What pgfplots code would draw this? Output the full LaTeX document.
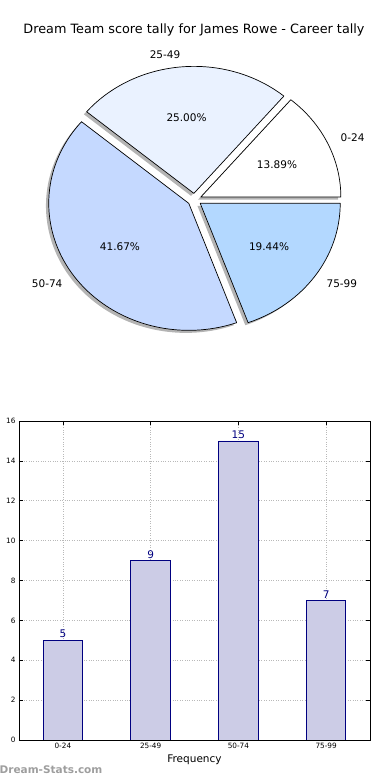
\documentclass[border=0pt]{standalone}
\usepackage{fontspec}
\setmainfont{DejaVu Sans}
\usepackage{pgfplots}
\pgfplotsset{compat=1.18}
\definecolor{cA}{HTML}{FFFFFF}
\definecolor{cB}{HTML}{EAF2FF}
\definecolor{cC}{HTML}{C5D9FF}
\definecolor{cD}{HTML}{B3D8FF}
\definecolor{barfill}{HTML}{CCCCE6}
\definecolor{baredge}{HTML}{000080}
\newcommand\pielist{5/0-24/cA/west, 9/25-49/cB/east, 15/50-74/cC/east, 7/75-99/cD/west}
\begin{document}
\begin{tikzpicture}
\node[font=\fontsize{12.8}{15}\selectfont] at (194pt,750pt) {Dream Team score tally for James Rowe - Career tally};
% ---------- pie ----------
\begin{axis}[at={(54.5pt,453.3pt)}, anchor=south west, scale only axis,
  width=280pt, height=254pt, xmin=-1, xmax=1, ymin=-1, ymax=1,
  hide axis, clip=false]
\pgfplotsextra{
  \gdef\tot{0}
  \foreach \v/\lab/\col/\anc in \pielist {\pgfmathsetmacro\t{\tot+\v}\xdef\tot{\t}}
  % shadows
  \gdef\cum{0}
  \foreach \v/\lab/\col/\anc in \pielist {
    \pgfmathsetmacro\a{\cum}
    \pgfmathsetmacro\b{\cum+\v*360/\tot}
    \pgfmathsetmacro\m{(\a+\b)/2}
    \pgfmathsetmacro\cx{0.05*cos(\m)-0.02}
    \pgfmathsetmacro\cy{0.05*sin(\m)-0.02}
    \pgfmathsetmacro\sx{\cx+cos(\a)}
    \pgfmathsetmacro\sy{\cy+sin(\a)}
    \fill[black!65, opacity=0.45] (axis cs:\cx,\cy) -- (axis cs:\sx,\sy)
      arc[start angle=\a, end angle=\b, x radius=140pt, y radius=127pt] -- cycle;
    \xdef\cum{\b}
  }
  % wedges
  \gdef\cum{0}
  \foreach \v/\lab/\col/\anc in \pielist {
    \pgfmathsetmacro\a{\cum}
    \pgfmathsetmacro\b{\cum+\v*360/\tot}
    \pgfmathsetmacro\m{(\a+\b)/2}
    \pgfmathsetmacro\cx{0.05*cos(\m)}
    \pgfmathsetmacro\cy{0.05*sin(\m)}
    \pgfmathsetmacro\sx{\cx+cos(\a)}
    \pgfmathsetmacro\sy{\cy+sin(\a)}
    \filldraw[fill=\col, draw=black, line width=0.7pt, line join=round] (axis cs:\cx,\cy) -- (axis cs:\sx,\sy)
      arc[start angle=\a, end angle=\b, x radius=140pt, y radius=127pt] -- cycle;
    \pgfmathsetmacro\lx{\cx+1.1*cos(\m)}
    \pgfmathsetmacro\ly{\cy+1.1*sin(\m)}
    \node[anchor=\anc, inner sep=0pt, font=\fontsize{10.5}{12}\selectfont] at (axis cs:\lx,\ly) {\lab};
    \pgfmathsetmacro\px{\cx+0.6*cos(\m)}
    \pgfmathsetmacro\py{\cy+0.6*sin(\m)}
    \pgfmathsetmacro\p{100*\v/\tot}
    \node[inner sep=0pt, font=\fontsize{10.5}{12}\selectfont] at (axis cs:\px,\py) {\pgfmathprintnumber[fixed,fixed zerofill,precision=2,assume math mode=true]{\p}\%};
    \xdef\cum{\b}
  }
}
\end{axis}
% ---------- bars ----------
\begin{axis}[at={(19pt,40pt)}, anchor=south west, scale only axis,
  width=351pt, height=319pt,
  xmin=-0.5, xmax=3.5, ymin=0, ymax=16,
  ybar, bar width=0.45,
  xtick={0,1,2,3}, xticklabels={0-24,25-49,50-74,75-99},
  ytick={0,2,...,16},
  /pgf/number format/assume math mode=true,
  tick label style={font=\fontsize{7.3}{8}\selectfont},
  tick align=inside, major tick length=4pt, tick style={black, line width=0.5pt},
  xtick pos=both, ytick pos=both,
  grid=major, grid style={dash pattern=on 0.8pt off 1.6pt, gray!55, line width=0.7pt},
  axis line style={black, line width=0.8pt},
  xlabel={Frequency},
  xlabel style={at={(axis description cs:0.5,0)}, anchor=center, yshift=-20pt, font=\fontsize{10.5}{12}\selectfont},
  ylabel={Score Interval},
  ylabel style={at={(axis description cs:0,0.5)}, anchor=center, yshift=25pt, font=\fontsize{10.5}{12}\selectfont},
  nodes near coords,
  nodes near coords style={text=baredge, font=\fontsize{10.5}{12}\selectfont, inner sep=2pt}]
\addplot[fill=barfill, draw=baredge, line width=0.8pt] coordinates {(0,5) (1,9) (2,15) (3,7)};
\end{axis}
\node[anchor=west, inner sep=0pt, font=\bfseries\fontsize{10.5}{12}\selectfont, text=black!38] at (-0.5pt,10pt) {Dream-Stats.com};
\pgfresetboundingbox
\useasboundingbox (0pt,0pt) rectangle (390pt,780pt);
\end{tikzpicture}
\end{document}
